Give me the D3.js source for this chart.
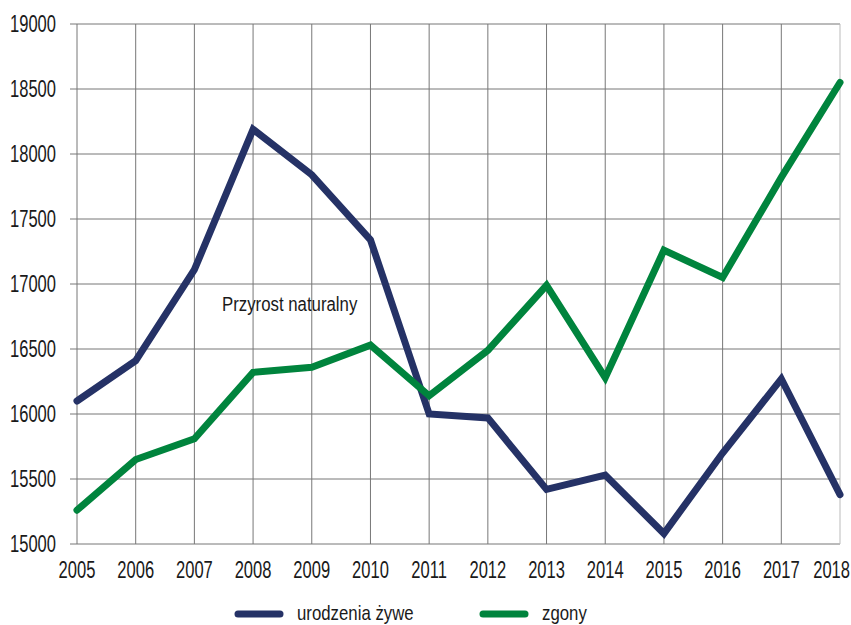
<!DOCTYPE html>
<html>
<head>
<meta charset="utf-8">
<script src="https://cdn.jsdelivr.net/npm/d3@7"></script>
<style>
  body { margin: 0; background: #fff; }
  text { font-family: "Liberation Sans", "Noto Sans", sans-serif; fill: #1a1a1a; }
</style>
</head>
<body>
<div id="chart"></div>
<script>
// years on the x axis
var years = [2005, 2006, 2007, 2008, 2009, 2010, 2011, 2012, 2013, 2014, 2015, 2016, 2017, 2018];
// live births
var urodzenia = [16100, 16410, 17110, 18190, 17840, 17340, 16000, 15970, 15420, 15530, 15080, 15700, 16270, 15380];
// deaths
var zgony = [15260, 15650, 15810, 16320, 16360, 16530, 16140, 16490, 16990, 16280, 17260, 17050, 17820, 18550];
var yTicks = [15000, 15500, 16000, 16500, 17000, 17500, 18000, 18500, 19000];

var W = 851, H = 625;
var margin = {top: 24, right: 11, bottom: 81, left: 77};

var svg = d3.select('#chart').append('svg')
    .attr('width', W)
    .attr('height', H);

var x = d3.scalePoint()
    .domain(years)
    .range([margin.left, W - margin.right]);

var y = d3.scaleLinear()
    .domain([15000, 19000])
    .range([H - margin.bottom, margin.top]);

//condensed text helper (no condensed face installed, so squeeze it)
function ctext(sel, tx, ty, anchor, size, squeeze) {
    return sel.append('text')
        .attr('transform', 'translate(' + tx + ',' + ty + ') scale(' + squeeze + ',1)')
        .attr('text-anchor', anchor)
        .style('font-size', size + 'px');
}

//horizontal grid + left ticks
var yg = svg.append('g')
    .selectAll('g')
    .data(yTicks)
    .enter().append('g');

yg.append('line')
    .attr('x1', margin.left - 7)
    .attr('x2', W - margin.right)
    .attr('y1', function(d) { return y(d); })
    .attr('y2', function(d) { return y(d); })
    .attr('stroke', '#777');

yg.each(function(d) {
    ctext(d3.select(this), 56, y(d) + 8, 'end', 23, 0.72).text(d);
});

//vertical grid
svg.append('g')
    .selectAll('line')
    .data(years)
    .enter().append('line')
    .attr('x1', function(d) { return x(d); })
    .attr('x2', function(d) { return x(d); })
    .attr('y1', margin.top)
    .attr('y2', H - margin.bottom)
    .attr('stroke', function(d, i) { return i == years.length - 1 ? '#bbb' : '#777'; });

//x labels
var xg = svg.append('g');
years.forEach(function(d, i) {
    var last = i == years.length - 1;
    ctext(xg, last ? W - 1 : x(d), H - margin.bottom + 34, last ? 'end' : 'middle', 23, 0.72).text(d);
});

var line = d3.line()
    .x(function(d, i) { return x(years[i]); })
    .y(function(d) { return y(d); });

var series = [
    {name: 'urodzenia żywe', values: urodzenia, color: '#253266'},
    {name: 'zgony', values: zgony, color: '#00843d'}
];

svg.selectAll('path.series')
    .data(series)
    .enter().append('path')
    .attr('class', 'series')
    .attr('d', function(d) { return line(d.values); })
    .attr('fill', 'none')
    .attr('stroke', function(d) { return d.color; })
    .attr('stroke-width', 7)
    .attr('stroke-linejoin', 'miter')
    .attr('stroke-linecap', 'round');

//annotation
ctext(svg, 222, 311, 'start', 21, 0.8).text('Przyrost naturalny');

//legend
var legend = svg.append('g')
    .selectAll('g')
    .data(series)
    .enter().append('g')
    .attr('transform', function(d, i) { return 'translate(' + (238 + i * 245) + ',614)'; });

legend.append('line')
    .attr('x1', 0).attr('x2', 42)
    .attr('stroke', function(d) { return d.color; })
    .attr('stroke-width', 7)
    .attr('stroke-linecap', 'round');

legend.each(function(d) {
    ctext(d3.select(this), 59, 6, 'start', 20, 0.84).text(d.name);
});
</script>
</body>
</html>
